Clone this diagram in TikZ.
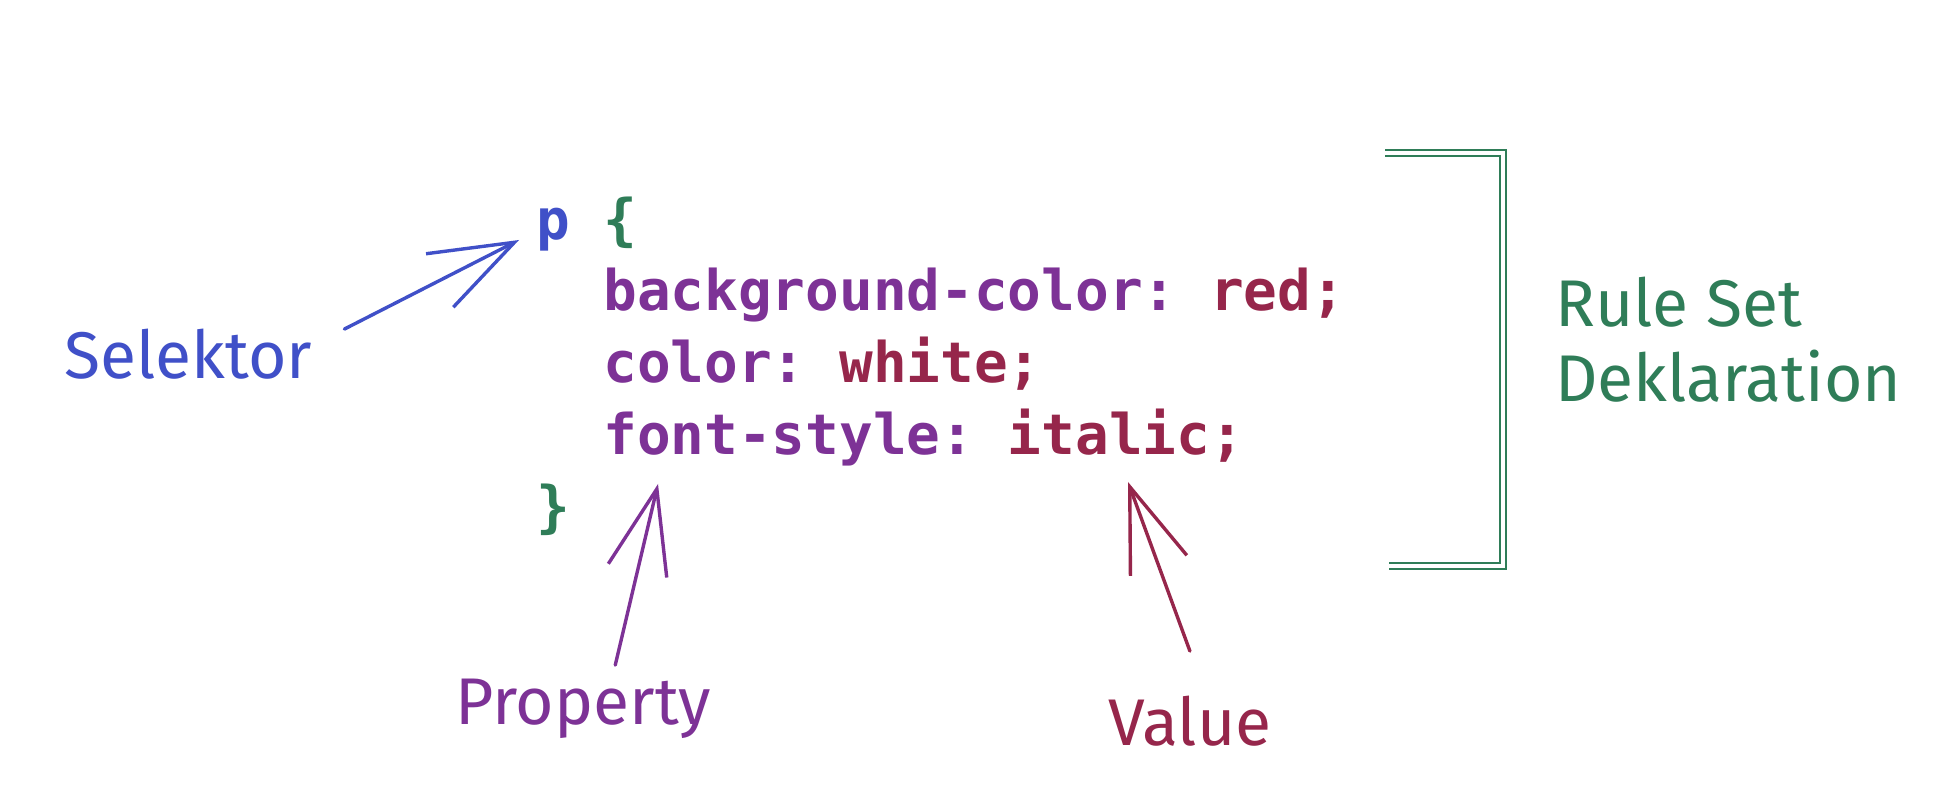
\documentclass[tikz,border=0pt]{standalone}
\usepackage{fontspec}
\setmonofont{DejaVu Sans Mono}
\newfontfamily\handfont{Fira Sans}
\usepackage{xcolor}
\usetikzlibrary{arrows.meta,positioning}
\definecolor{selblue}{RGB}{64,80,200}
\definecolor{rulegreen}{RGB}{47,125,88}
\definecolor{propviolet}{RGB}{125,50,150}
\definecolor{valred}{RGB}{150,38,75}
\newcommand{\cssprop}[1]{\textcolor{propviolet}{#1}}
\newcommand{\cssval}[1]{\textcolor{valred}{#1}}

\begin{document}
\begin{tikzpicture}[
  x=0.5pt, y=-0.5pt,
  code/.style={inner sep=0pt, anchor=base west, font=\fontsize{28pt}{36pt}\selectfont\ttfamily\bfseries},
  hand/.style={inner sep=0pt, font=\fontsize{33pt}{37.5pt}\selectfont\handfont},
  arrow/.style={-{Straight Barb[length=42pt, width=30pt]}, line width=1.7pt, line cap=round, line join=round},
  bracket/.style={draw=rulegreen, double=white, double distance=1.6pt, line width=1.1pt},
]
  \useasboundingbox[fill=white] (0,0) rectangle (1948,806);

  % the rule set
  \node[code, text=selblue] (sel) at (536,240) {p};
  \node[code, text=rulegreen] (open) at (603,240) {\{};
  \node[code] (decl1) at (603,311) {\cssprop{background-color:} \cssval{red;}};
  \node[code] (decl2) at (603,383) {\cssprop{color:} \cssval{white;}};
  \node[code] (decl3) at (603,455) {\cssprop{font-style:} \cssval{italic;}};
  \node[code, text=rulegreen] (close) at (536,527) {\}};

  % bracket round the whole rule
  \coordinate (bracetop) at (1385,153);
  \coordinate (bracebot) at (1389,566);
  \coordinate (bracemid) at (1503,359.5);
  \draw[bracket] (bracetop) -- (1503,153) -- (1503,566) -- (bracebot);
  \node[hand, anchor=west, align=left, text=rulegreen, right=26pt of bracemid, yshift=10pt] (ruleset)
    {Rule Set\\Deklaration};

  % labels
  \node[hand, anchor=base west, text=selblue] (selektor) at (64,379) {Selektor};
  \node[hand, anchor=base west, text=propviolet] (property) at (455,724) {Property};
  \node[hand, anchor=base west, text=valred] (value) at (1108,745) {Value};

  \coordinate (seltip) at ([xshift=-8.5pt]sel.base west);
  \coordinate (proptip) at ([xshift=27.5pt, yshift=-14.5pt]decl3.base west);
  \coordinate (valtip) at ([xshift=262.5pt, yshift=-13.5pt]decl3.base west);

  \draw[arrow, selblue] ([xshift=16pt]selektor.north east) -- (seltip);
  \draw[arrow, propviolet] ([xshift=16pt, yshift=6.5pt]property.north) -- (proptip);
  \draw[arrow, valred] ([yshift=22pt]value.north) -- (valtip);
\end{tikzpicture}
\end{document}
